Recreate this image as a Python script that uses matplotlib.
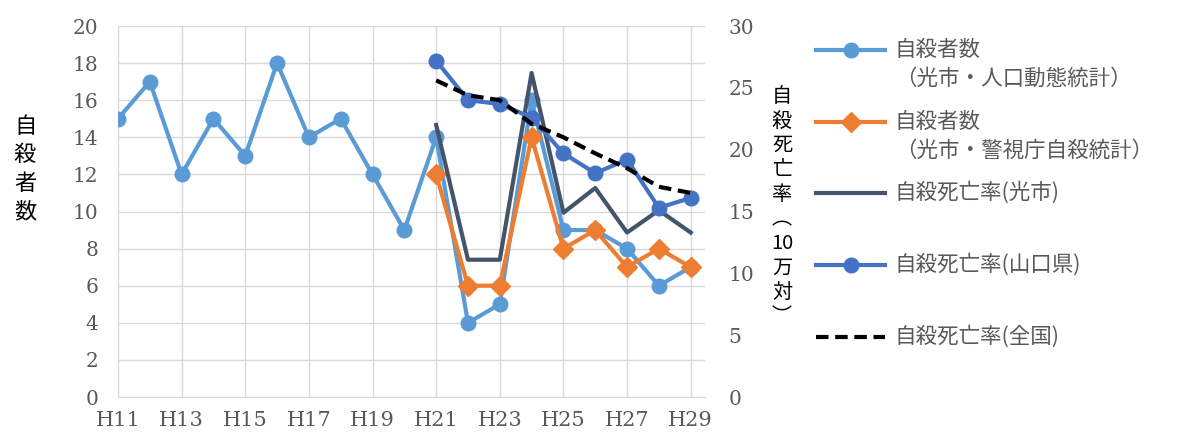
import matplotlib.pyplot as plt
from matplotlib.lines import Line2D

plt.rcParams['font.family'] = ['Noto Sans CJK JP', 'DejaVu Sans']

# H11..H29
years = list(range(11, 30))
deaths_vital = [15, 17, 12, 15, 13, 18, 14, 15, 12, 9, 14, 4, 5, 16, 9, 9, 8, 6, 7]

# H21..H29
years_recent = list(range(21, 30))
deaths_police = [12, 6, 6, 14, 8, 9, 7, 8, 7]
rate_hikari = [22.0, 11.1, 11.1, 26.2, 14.9, 16.9, 13.3, 15.1, 13.3]
rate_yamaguchi = [27.2, 24.0, 23.7, 22.6, 19.7, 18.1, 19.2, 15.3, 16.1]
rate_national = [25.6, 24.4, 24.0, 22.1, 21.0, 19.7, 18.5, 17.0, 16.5]

xticks = list(range(11, 30, 2))
xticklabels = ['H%d' % y for y in xticks]

labels = ['自殺者数\n（光市・人口動態統計）',
          '自殺者数\n（光市・警視庁自殺統計）',
          '自殺死亡率(光市)',
          '自殺死亡率(山口県)',
          '自殺死亡率(全国)']

c_light = '#5B9BD5'
c_orange = '#ED7D31'
c_gray = '#44546A'
c_blue = '#4472C4'
tick_color = '#595959'
grid_color = '#D9D9D9'

W, H = 1177, 436
fig = plt.figure(figsize=(W / 100, H / 100), dpi=100)
ax = fig.add_axes([118 / W, 1 - 397 / H, (705 - 118) / W, (397 - 26) / H])
ax2 = ax.twinx()

l1, = ax.plot(years, deaths_vital, '-o', color=c_light, lw=3, ms=10.5)
l2, = ax.plot(years_recent, deaths_police, '-D', color=c_orange, lw=3, ms=10.5)
l3, = ax2.plot(years_recent, rate_hikari, '-', color=c_gray, lw=3)
l4, = ax2.plot(years_recent, rate_yamaguchi, '-o', color=c_blue, lw=3, ms=10.5)
l5, = ax2.plot(years_recent, rate_national, '--', color='black', lw=3,
               dashes=(3, 1.6))

ax.set_xlim(11, 29.45)
ax.set_ylim(0, 20)
ax2.set_ylim(0, 30)
ax.set_yticks(range(0, 21, 2))
ax2.set_yticks(range(0, 31, 5))
ax.set_xticks(xticks)
ax.set_xticklabels(xticklabels)

ax.grid(True, color=grid_color, lw=1)
ax.set_axisbelow(True)
for a in (ax, ax2):
    for s in a.spines.values():
        s.set_visible(False)
ax.spines['bottom'].set_visible(True)
ax.spines['bottom'].set_color(grid_color)

ax.tick_params(axis='y', length=0, colors=tick_color, labelsize=14.5, pad=14)
ax.tick_params(axis='x', length=0, colors=tick_color, labelsize=15, pad=10)
ax2.tick_params(axis='y', length=0, colors=tick_color, labelsize=14.5, pad=17)
for t in ax.get_xticklabels() + ax.get_yticklabels() + ax2.get_yticklabels():
    t.set_family('DejaVu Serif')

# vertical axis titles
fig.text(25 / W, 1 - 169 / H, '\n'.join('自殺者数'), ha='center', va='center',
         fontsize=16, linespacing=1.3)
fig.text(782 / W, 1 - 207 / H, '自\n殺\n死\n亡\n率\n︵\n10\n万\n対\n︶',
         ha='center', va='center', fontsize=14.5, linespacing=1.22)


def px(x, y):
    return x / W, 1 - y / H


# legend
handles = [(l1, 'o'), (l2, 'D'), (l3, None), (l4, 'o'), (l5, None)]
rows = [50, 122, 193, 265, 337]
for (line, marker), label, y in zip(handles, labels, rows):
    x0, y0 = px(816, y)
    x1, _ = px(885, y)
    h = Line2D([x0, x1], [y0, y0], transform=fig.transFigure,
               color=line.get_color(), lw=3, linestyle=line.get_linestyle())
    if line is l5:
        h.set_dashes((3, 1.6))
    fig.add_artist(h)
    if marker:
        fig.add_artist(Line2D([(x0 + x1) / 2], [y0], transform=fig.transFigure,
                              marker=marker, ms=10.5, color=line.get_color(),
                              lw=0))
    for i, part in enumerate(label.split('\n')):
        fig.text(895 / W, 1 - (y + 29 * i) / H, part, ha='left',
                 va='center', fontsize=15.5, color=tick_color)

fig.savefig('out.png', dpi=100)
